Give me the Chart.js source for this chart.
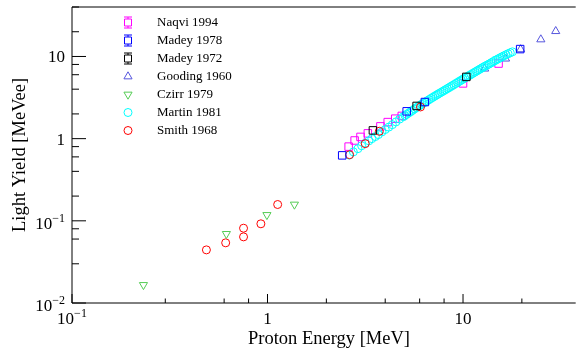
<!DOCTYPE html>
<html>
<head>
<meta charset="utf-8">
<script src="https://cdn.jsdelivr.net/npm/chart.js@4/dist/chart.umd.min.js"></script>
<style>
  body { margin: 0; background: #fff; }
  canvas { display: block; }
</style>
</head>
<body>
<canvas id="chart__canvas" width="582" height="350"></canvas>
<script>
// values (MeV, MeVee)
const naqviX = [2.60, 2.79, 2.99, 3.26, 3.78, 4.12, 4.50, 4.86, 10.0, 15.2];
const naqviY = [0.80, 0.95, 1.05, 1.16, 1.41, 1.59, 1.75, 1.89, 4.70, 8.20];

const madey78X = [2.41, 5.15, 6.38, 19.6];
const madey78Y = [0.626, 2.15, 2.79, 12.3];

const madey72X = [3.46, 5.79, 10.4];
const madey72Y = [1.26, 2.50, 5.64];

const goodingX = [12.9, 16.5, 19.7, 25.0, 29.8];
const goodingY = [7.10, 9.40, 12.2, 16.1, 20.3];

const czirrX = [0.232, 0.616, 0.993, 1.373];
const czirrY = [0.0166, 0.0694, 0.118, 0.158];

const martinX = [2.62, 2.75, 2.90, 3.03, 3.16, 3.30, 3.42, 3.56, 3.69, 3.85,
  4.00, 4.17, 4.35, 4.54, 4.74, 4.95, 5.05, 5.15, 5.27, 5.40,
  5.52, 5.65, 5.77, 5.90, 6.02, 6.15, 6.27, 6.40, 6.55, 6.70,
  6.85, 7.00, 7.15, 7.30, 7.45, 7.60, 7.77, 7.95, 8.12, 8.30,
  8.47, 8.65, 8.82, 9.00, 9.20, 9.40, 9.60, 9.80, 10.0, 10.2,
  10.4, 10.6, 10.8, 11.0, 11.25, 11.5, 11.75, 12.0, 12.25, 12.5,
  12.75, 13.0, 13.3, 13.6, 13.9, 14.2, 14.5, 14.8, 15.15, 15.5,
  15.85, 16.2, 16.6, 17.0, 17.45, 17.9];
const martinY = [0.63, 0.69, 0.755, 0.82, 0.88, 0.94, 1.00, 1.06, 1.12, 1.21,
  1.29, 1.38, 1.48, 1.60, 1.73, 1.85, 1.91, 1.98, 2.05, 2.13,
  2.21, 2.30, 2.38, 2.46, 2.54, 2.62, 2.70, 2.79, 2.88, 2.98,
  3.08, 3.18, 3.28, 3.38, 3.48, 3.58, 3.69, 3.81, 3.93, 4.05,
  4.17, 4.30, 4.42, 4.55, 4.70, 4.85, 5.00, 5.15, 5.30, 5.45,
  5.60, 5.75, 5.90, 6.05, 6.25, 6.45, 6.65, 6.85, 7.05, 7.25,
  7.45, 7.65, 7.87, 8.10, 8.35, 8.60, 8.85, 9.10, 9.37, 9.65,
  9.92, 10.2, 10.5, 10.8, 11.1, 11.4];

const smithX = [0.487, 0.611, 0.754, 0.754, 0.925, 1.127, 2.63, 3.16, 3.73, 6.06];
const smithY = [0.0443, 0.054, 0.0638, 0.0813, 0.092, 0.158, 0.638, 0.869, 1.23, 2.43];

const seriesNames = ['Naqvi 1994', 'Madey 1978', 'Madey 1972', 'Gooding 1960', 'Czirr 1979', 'Martin 1981', 'Smith 1968'];

const xTickValues = [0.1, 1, 10];
const xTickLabels = [['10', '\u22121'], ['1', ''], ['10', '']];
const yTickValues = [0.01, 0.1, 1, 10];
const yTickLabels = [['10', '\u22122'], ['10', '\u22121'], ['1', ''], ['10', '']];

const xTitle = 'Proton Energy [MeV]';
const yTitle = 'Light Yield [MeVee]';

const serif = '"Liberation Serif", "DejaVu Serif", serif';

function pts(xs, ys) {
  return xs.map((x, i) => ({ x: x, y: ys[i] }));
}

function series(name, xs, ys, color, style, radius, rotation, order) {
  return {
    label: name,
    data: pts(xs, ys),
    borderColor: color,
    backgroundColor: 'rgba(0,0,0,0)',
    pointStyle: style,
    pointRadius: radius,
    pointRotation: rotation,
    pointBorderWidth: 1,
    order: order
  };
}

const colors = ['#ff00ff', '#0000ff', '#000000', '#5555dd', '#55cc55', '#00ffff', '#ff0000'];
const styles = ['rect', 'rect', 'rect', 'triangle', 'triangle', 'circle', 'circle'];
const rotations = [0, 0, 0, 0, 180, 0, 0];

// ticks, labels, frame, titles and legend in ROOT style
const rootFrame = {
  id: 'rootFrame',
  afterDraw(chart) {
    const ctx = chart.ctx;
    const a = chart.chartArea;
    const xs = chart.scales.x;
    const ys = chart.scales.y;
    ctx.save();
    ctx.strokeStyle = '#000';
    ctx.lineWidth = 1;

    ctx.beginPath();
    ctx.moveTo(a.left, a.top); ctx.lineTo(a.right, a.top);
    ctx.moveTo(a.left, a.top); ctx.lineTo(a.left, a.bottom);
    ctx.lineTo(a.right, a.bottom);
    ctx.stroke();

    const isNice = v => {
      const m = v / Math.pow(10, Math.floor(Math.log10(v) + 1e-9));
      return Math.abs(m - Math.round(m)) < 1e-6 ? Math.round(m) : 0;
    };

    ctx.beginPath();
    xs.ticks.forEach(t => {
      const m = isNice(t.value);
      if (!m) return;
      const px = xs.getPixelForValue(t.value);
      if (px < a.left - 0.5 || px > a.right + 0.5) return;
      const len = m === 1 ? 9 : 4.5;
      ctx.moveTo(px, a.bottom); ctx.lineTo(px, a.bottom - len);
    });
    ys.ticks.forEach(t => {
      const m = isNice(t.value);
      if (!m) return;
      const py = ys.getPixelForValue(t.value);
      if (py < a.top - 0.5 || py > a.bottom + 0.5) return;
      const len = m === 1 ? 14 : 7;
      ctx.moveTo(a.left, py); ctx.lineTo(a.left + len, py);
    });
    ctx.stroke();

    ctx.fillStyle = '#000';
    const big = '17px ' + serif;
    const small = '12px ' + serif;

    // x tick labels
    xTickValues.forEach((v, i) => {
      const px = xs.getPixelForValue(v);
      const [base, sup] = xTickLabels[i];
      ctx.font = big;
      const wb = ctx.measureText(base).width;
      ctx.font = small;
      const ws = sup ? ctx.measureText(sup).width : 0;
      const x0 = px - (wb + ws) / 2;
      ctx.textAlign = 'left';
      ctx.textBaseline = 'alphabetic';
      ctx.font = big;
      ctx.fillText(base, x0, 324);
      if (sup) {
        ctx.font = small;
        ctx.fillText(sup, x0 + wb, 316.5);
      }
    });

    // y tick labels
    yTickValues.forEach((v, i) => {
      const py = ys.getPixelForValue(v);
      const [base, sup] = yTickLabels[i];
      ctx.textAlign = 'left';
      ctx.textBaseline = 'alphabetic';
      ctx.font = small;
      const ws = sup ? ctx.measureText(sup).width : 0;
      ctx.font = big;
      const wb = ctx.measureText(base).width;
      const right = 65;
      if (sup) {
        ctx.fillText(base, right - ws - wb, py + 8);
        ctx.font = small;
        ctx.fillText(sup, right - ws, py + 1);
      } else {
        ctx.fillText(base, right - wb, py + 6);
      }
    });

    // axis titles
    ctx.font = '18.5px ' + serif;
    ctx.textAlign = 'center';
    ctx.textBaseline = 'alphabetic';
    ctx.fillText(xTitle, 329, 343.5);
    ctx.save();
    ctx.translate(25, (a.top + a.bottom) / 2);
    ctx.rotate(-Math.PI / 2);
    ctx.fillText(yTitle, 0, 0);
    ctx.restore();

    // legend
    ctx.font = '13px ' + serif;
    ctx.textAlign = 'left';
    ctx.textBaseline = 'middle';
    seriesNames.forEach((name, i) => {
      const cy = 22.5 + i * 18;
      const cx = 128;
      ctx.strokeStyle = colors[i];
      ctx.lineWidth = 1;
      ctx.beginPath();
      if (styles[i] === 'rect') {
        ctx.rect(cx - 3.5, cy - 3.5, 7, 7);
        ctx.moveTo(cx - 4, cy - 5.5); ctx.lineTo(cx + 4, cy - 5.5);
        ctx.moveTo(cx - 4, cy + 5.5); ctx.lineTo(cx + 4, cy + 5.5);
        ctx.moveTo(cx, cy - 5.5); ctx.lineTo(cx, cy - 3.5);
        ctx.moveTo(cx, cy + 3.5); ctx.lineTo(cx, cy + 5.5);
      } else if (styles[i] === 'triangle') {
        const r = 4.7;
        const s = rotations[i] ? -1 : 1;
        ctx.moveTo(cx, cy - s * r);
        ctx.lineTo(cx + r * 0.866, cy + s * r / 2);
        ctx.lineTo(cx - r * 0.866, cy + s * r / 2);
        ctx.closePath();
      } else {
        ctx.arc(cx, cy, 4, 0, Math.PI * 2);
      }
      ctx.stroke();
      ctx.fillStyle = '#000';
      ctx.fillText(name, 157, cy + 0.5);
    });
    ctx.restore();
  }
};

const chartCanvas = document.getElementById('chart__canvas');
const chartConfig = {
  type: 'scatter',
  data: {
    datasets: [
      series(seriesNames[0], naqviX, naqviY, colors[0], styles[0], 5.3, 0, 7),
      series(seriesNames[1], madey78X, madey78Y, colors[1], styles[1], 5.3, 0, 2),
      series(seriesNames[2], madey72X, madey72Y, colors[2], styles[2], 5.3, 0, 1),
      series(seriesNames[3], goodingX, goodingY, colors[3], styles[3], 4.7, 0, 6),
      series(seriesNames[4], czirrX, czirrY, colors[4], styles[4], 4.7, 180, 3),
      series(seriesNames[5], martinX, martinY, colors[5], styles[5], 4, 0, 5),
      series(seriesNames[6], smithX, smithY, colors[6], styles[6], 4, 0, 4)
    ]
  },
  options: {
    responsive: false,
    animation: false,
    layout: { padding: { left: 72, top: 7, right: 0, bottom: 47 } },
    plugins: {
      legend: { display: false },
      tooltip: { enabled: false }
    },
    scales: {
      x: { type: 'logarithmic', min: 0.1, max: 37.7, display: false },
      y: { type: 'logarithmic', min: 0.01, max: 40, display: false }
    }
  },
  plugins: [rootFrame]
};

const chart = new Chart(chartCanvas, chartConfig);
</script>
</body>
</html>
